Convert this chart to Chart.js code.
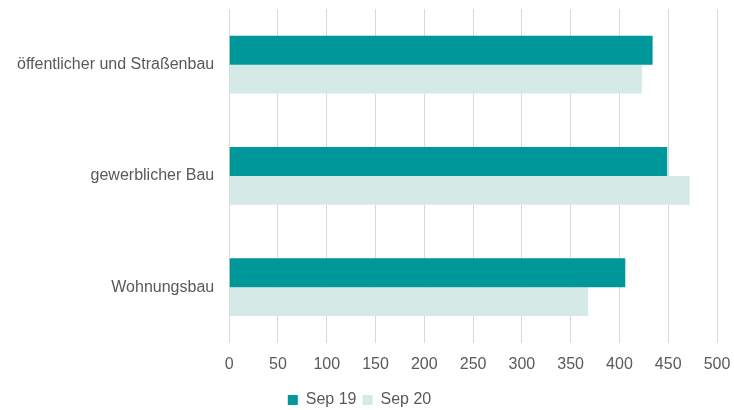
<!DOCTYPE html>
<html>
<head>
<meta charset="utf-8">
<script src="https://cdn.jsdelivr.net/npm/chart.js@4"></script>
<style>
  html, body { margin: 0; padding: 0; background: #fff; }
  #wrap { width: 734px; height: 410px; }
</style>
</head>
<body>
<div id="wrap"><canvas id="myChart" width="734" height="410"></canvas></div>
<script>
const categories = ["öffentlicher und Straßenbau", "gewerblicher Bau", "Wohnungsbau"];
const sep19 = [434, 449, 406];
const sep20 = [423, 472, 368];
const seriesLabels = ["Sep 19", "Sep 20"];

Chart.defaults.font.family = "'Liberation Sans', Arial, sans-serif";
Chart.defaults.font.size = 16;
Chart.defaults.color = "#595959";

const ctx = document.getElementById("myChart");

new Chart(ctx, {
  type: "bar",
  data: {
    labels: categories,
    datasets: [
      {
        label: seriesLabels[0],
        data: sep19,
        backgroundColor: "#00979a",
        barPercentage: 1,
        categoryPercentage: 0.52,
      },
      {
        label: seriesLabels[1],
        data: sep20,
        backgroundColor: "#d5eae7",
        barPercentage: 1,
        categoryPercentage: 0.52,
      },
    ],
  },
  options: {
    indexAxis: "y",
    responsive: false,
    animation: false,
    layout: { padding: { top: 9, right: 17, left: 2, bottom: -8 } },
    plugins: {
      tooltip: { enabled: false },
      legend: {
        position: "bottom",
        labels: {
          boxWidth: 10,
          boxHeight: 10,
          padding: 6,
        },
      },
    },
    scales: {
      x: {
        min: 0,
        max: 500,
        ticks: { stepSize: 50, padding: 12 },
        grid: { color: "#d9d9d9", tickLength: 0 },
        border: { display: false },
        afterFit(scale) {
          scale.paddingRight = 0;
        },
      },
      y: {
        ticks: { padding: 15 },
        grid: { display: false, drawTicks: false },
        border: { display: true, color: "#d9d9d9" },
        afterFit(scale) {
          scale.paddingTop = 0;
          scale.paddingBottom = 0;
        },
      },
    },
  },
});
</script>
</body>
</html>
